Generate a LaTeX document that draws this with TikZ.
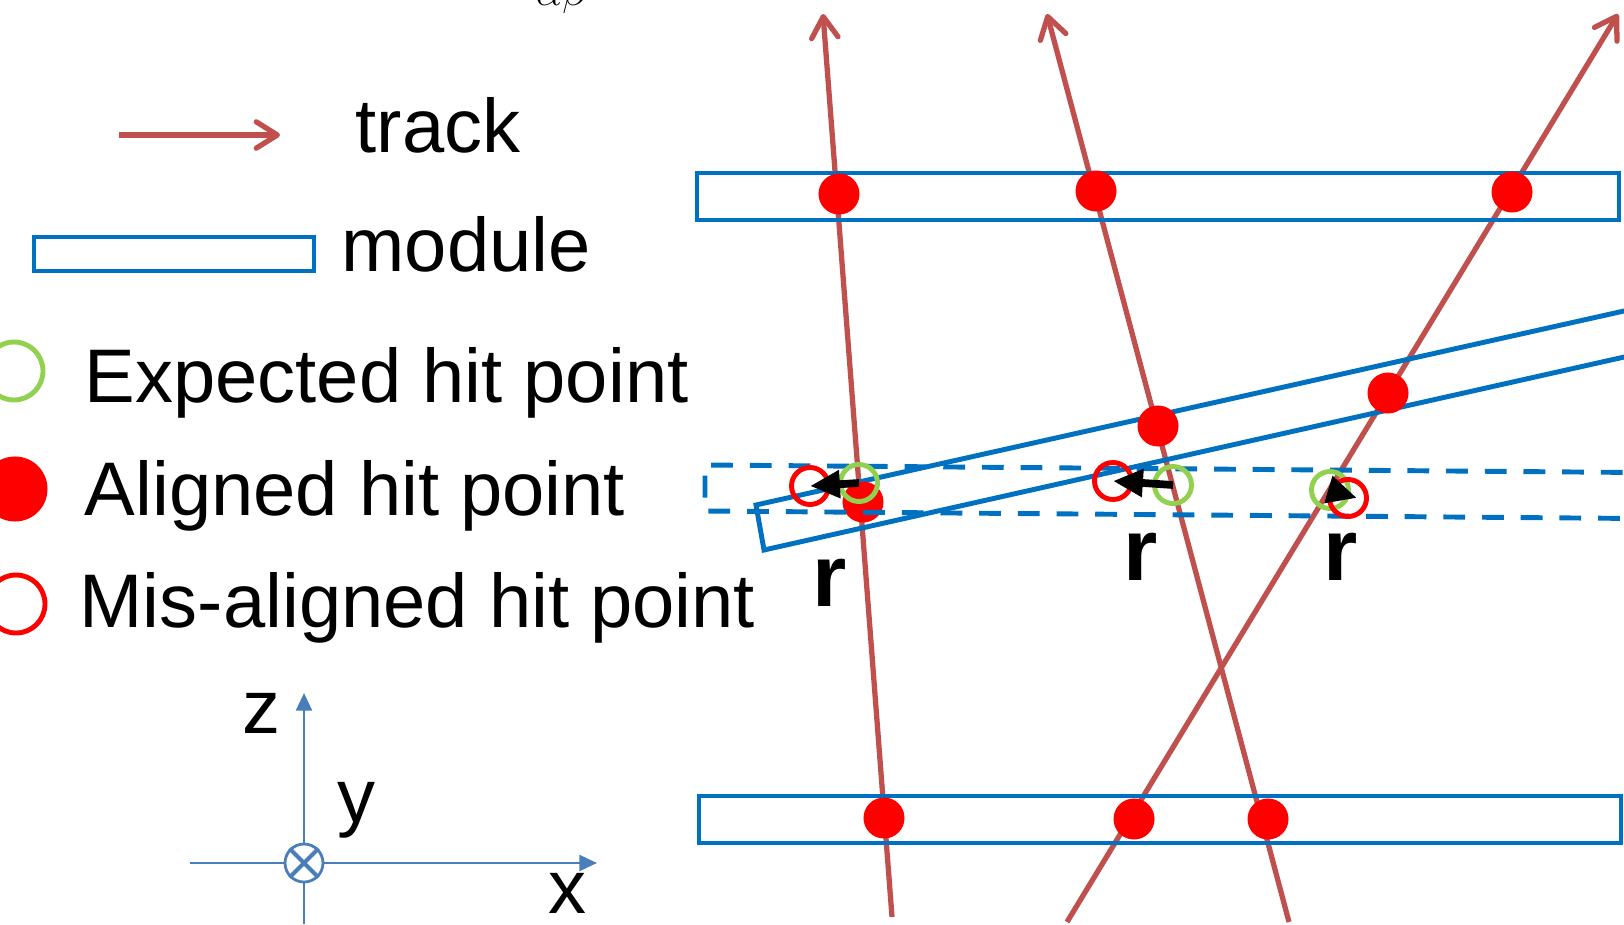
\documentclass[tikz,border=0pt]{standalone}
\usepackage{fontspec}
\setmainfont{Liberation Sans}
\usetikzlibrary{arrows.meta,positioning}
\definecolor{trackred}{HTML}{C0504D}
\definecolor{modblue}{HTML}{0070C0}
\definecolor{expgreen}{HTML}{92D050}
\definecolor{axisblue}{HTML}{4A7EBB}

\begin{document}
\begin{tikzpicture}[x=0.01cm,y=-0.01cm,
    every node/.style={inner sep=0pt},
    lbl/.style={anchor=base west,font=\fontsize{21.6}{26}\selectfont},
    rlbl/.style={anchor=base west,font=\fontsize{25}{30}\selectfont\bfseries},
    track/.style={draw=trackred,line width=1.5pt,-{Straight Barb[round,length=6pt,width=7.5pt]}},
    module/.style={draw=modblue,line width=1.4pt},
    shifted/.style={module,dash pattern=on 6.2pt off 4.8pt},
    hit/.style={circle,fill=red,minimum size=0.41cm},
    expected/.style={circle,draw=expgreen,line width=1.4pt,minimum size=0.37cm},
    misaligned/.style={circle,draw=red,line width=1.4pt,minimum size=0.37cm},
    resid/.style={line width=2.2pt,-{Triangle[length=8.5pt,width=7.5pt]}},
    axis/.style={draw=axisblue,line width=0.8pt}]
    \useasboundingbox (0,0) rectangle (1624,924);

    % cut text at the top edge
    \node[anchor=base,font=\fontsize{12}{14}\selectfont] (cut) at (562,5) {$\alpha\beta$};

    % legend
    \coordinate (ltrack0) at (119,135);
    \coordinate (ltrack1) at (280,135);
    \draw[track] (ltrack0) -- (ltrack1);
    \node[lbl] (ltrack) at (355,152) {track};
    \draw[module] (34,237) rectangle (314,271);
    \node[lbl] (lmodule) at (341,271) {module};
    \node[expected,minimum size=0.58cm] (lexp) at (14,371) {};
    \node[lbl] (lexptxt) at (84,402) {Expected hit point};
    \node[hit,minimum size=0.65cm] (lhit) at (15,489) {};
    \node[lbl] (lhittxt) at (84,515) {Aligned hit point};
    \node[misaligned,minimum size=0.58cm] (lmis) at (16,604) {};
    \node[lbl] (lmistxt) at (79,627) {Mis-aligned hit point};

    % axes
    \coordinate (xstart) at (190,863);
    \coordinate (xend) at (597,863);
    \coordinate (zstart) at (304,924);
    \coordinate (zend) at (304,693);
    \draw[axis,-{Triangle[length=5pt,width=4.5pt]}] (xstart) -- (xend);
    \draw[axis,-{Triangle[length=5pt,width=4.5pt]}] (zstart) -- (zend);
    \node[circle,draw=axisblue,fill=white,line width=0.8pt,minimum size=0.38cm] (orig) at (304,863) {};
    \draw[axisblue,line width=1.2pt] (orig.north west) -- (orig.south east)
        (orig.north east) -- (orig.south west);
    \node[lbl] (zlbl) at (242,733) {z};
    \node[lbl] (ylbl) at (337,822) {y};
    \node[lbl] (xlbl) at (548,913) {x};

    % tracks
    \coordinate (t1a) at (892,917);
    \coordinate (t1b) at (823,14);
    \coordinate (t2a) at (1289,922);
    \coordinate (t2b) at (1047,14);
    \coordinate (t3a) at (1067,922);
    \coordinate (t3b) at (1618,14);
    \draw[track] (t1a) -- (t1b);
    \draw[track] (t2a) -- (t2b);
    \draw[track] (t3a) -- (t3b);

    % modules
    \draw[module] (697,173) rectangle (1619,220);
    \draw[module] (699,796) rectangle (1621,843);
    \draw[module] (1700,294) -- (756,505) -- (764,550) -- (1700,340);

    % aligned hits
    \node[hit] (h1) at (839,194) {};
    \node[hit] (h2) at (1096,191) {};
    \node[hit] (h3) at (1512,192) {};
    \node[hit] (h4) at (863,502) {};
    \node[hit] (h5) at (1158,426) {};
    \node[hit] (h6) at (1388,393) {};
    \node[hit] (h7) at (884,818) {};
    \node[hit] (h8) at (1268,819) {};
    \node[hit] (h9) at (1134,819) {};

    % module before alignment
    \draw[shifted] (1700,473) -- (705,465) -- (705,511) -- (1700,519);

    % expected and mis-aligned hits
    \node[expected] (e1) at (859,483) {};
    \node[expected] (e2) at (1173,485) {};
    \node[expected] (e3) at (1330,490) {};
    \node[misaligned] (m1) at (810,486) {};
    \node[misaligned] (m2) at (1113,481) {};
    \node[misaligned] (m3) at (1348,498) {};
    \draw[resid] (e1.center) -- (m1.center);
    \draw[resid] (e2.center) -- (m2.center);
    \draw[resid] (e3.center) -- ([xshift=0.09cm]m3.center);

    \node[rlbl] (r1) at (812,606) {r};
    \node[rlbl] (r2) at (1123,580) {r};
    \node[rlbl] (r3) at (1323,580) {r};
\end{tikzpicture}
\end{document}
